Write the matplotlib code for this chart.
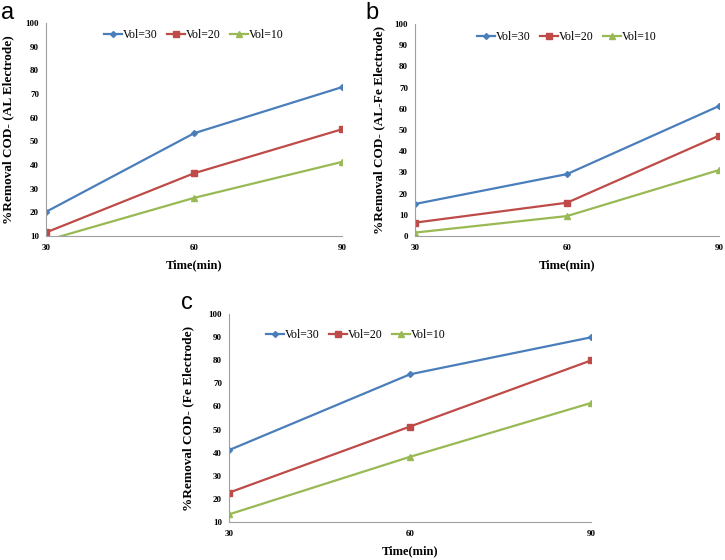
import matplotlib
matplotlib.use("Agg")
from matplotlib import pyplot as plt

time_min = [30, 60, 90]
series_names = ["Vol=30", "Vol=20", "Vol=10"]

# panel a - AL electrode
al_vol30 = [20.2, 53.4, 72.9]
al_vol20 = [11.5, 36.5, 55.1]
al_vol10 = [8.1, 26.1, 41.3]

# panel b - AL-Fe electrode
alfe_vol30 = [15.1, 29.2, 61.3]
alfe_vol20 = [6.3, 15.7, 47.3]
alfe_vol10 = [1.6, 9.4, 31.1]

# panel c - Fe electrode
fe_vol30 = [41.1, 73.9, 89.9]
fe_vol20 = [22.7, 51.3, 79.9]
fe_vol10 = [13.3, 38.2, 61.5]

colors = ["#4A7EBB", "#BE4B48", "#98B954"]
markers = ["D", "s", "^"]
msizes = [3, 4.5, 5]

plt.rcParams["font.family"] = ["Liberation Serif", "DejaVu Serif"]

fig = plt.figure(figsize=(7.25, 5.6), dpi=100)
W, H = 725, 560


def make_axes(left, right, top, bottom):
    return fig.add_axes([left / W, 1 - bottom / H, (right - left) / W, (bottom - top) / H])


def draw_panel(ax, data, ymin, ylabel, letter, lpos, letter_pos, ylpad):
    for vals, name, c, m, ms in zip(data, series_names, colors, markers, msizes):
        ax.plot(time_min, vals, color=c, marker=m, markersize=ms, linewidth=1.6, label=name)
    ax.set_xlim(30, 90)
    ax.set_ylim(ymin, 100)
    ax.set_xticks(time_min)
    ax.set_yticks(range(ymin, 101, 10))
    for s in ["top", "right"]:
        ax.spines[s].set_visible(False)
    for s in ["left", "bottom"]:
        ax.spines[s].set_color("#A0A0A0")
        ax.spines[s].set_linewidth(0.8)
    ax.tick_params(axis="both", length=0, labelsize=6.5, pad=5)
    ax.tick_params(axis="x", pad=6)
    for lab in ax.get_xticklabels() + ax.get_yticklabels():
        lab.set_fontweight("bold")
    ax.set_xlabel("Time(min)", fontsize=9, fontweight="bold", labelpad=5)
    ax.set_ylabel(ylabel, fontsize=9.5, fontweight="bold", labelpad=ylpad)
    ax.legend(loc="center", bbox_to_anchor=lpos, ncol=3, frameon=False, fontsize=8.5,
              handlelength=1.5, columnspacing=0.8, handletextpad=0.1, borderaxespad=0)
    fig.text(letter_pos[0] / W, 1 - letter_pos[1] / H, letter, fontsize=17,
             family="Liberation Sans", va="center", ha="left")


ax_a = make_axes(46, 342, 23, 236)
draw_panel(ax_a, [al_vol30, al_vol20, al_vol10], 10, "%Removal COD- (AL Electrode)",
           "a", (0.5, 0.944), (1, 13), 8)

ax_b = make_axes(415, 719, 24, 236)
draw_panel(ax_b, [alfe_vol30, alfe_vol20, alfe_vol10], 0, "%Removal COD- (AL-Fe Electrode)",
           "b", (0.5, 0.94), (365, 13), 7)

ax_c = make_axes(229, 591, 314, 522)
draw_panel(ax_c, [fe_vol30, fe_vol20, fe_vol10], 10, "%Removal COD- (Fe Electrode)",
           "c", (0.35, 0.90), (181, 303), 10)

fig.savefig("out.png", dpi=100)
